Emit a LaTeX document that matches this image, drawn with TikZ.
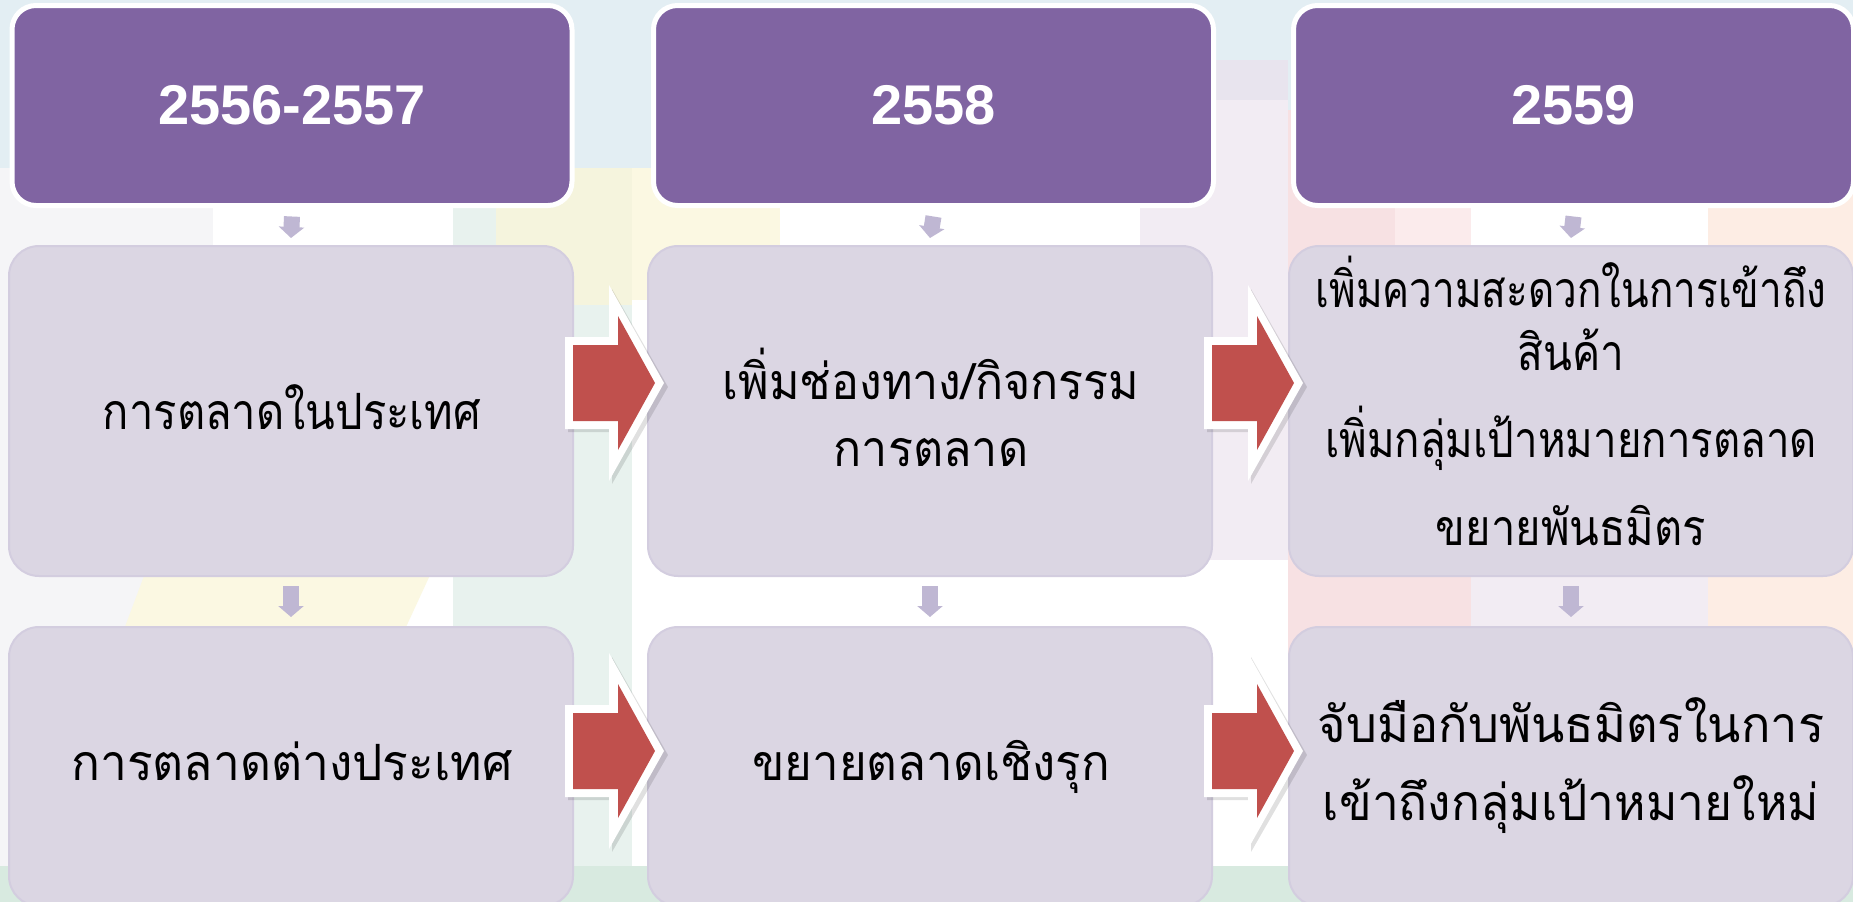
\documentclass[tikz,border=0pt]{standalone}
\usepackage{fontspec}
\usepackage{graphicx}
\setmainfont{Liberation Sans}
\newfontfamily\thaifont[Script=Thai, FakeStretch=0.87]{Loma}
\usetikzlibrary{arrows.meta,calc}
\definecolor{hdrpurple}{HTML}{8064A2}
\definecolor{boxfill}{HTML}{DBD6E3}
\definecolor{boxedge}{HTML}{D3CDDF}
\definecolor{smallarr}{HTML}{BFB7D3}
\definecolor{redarr}{HTML}{C0504D}
\definecolor{bgblue}{HTML}{E3EEF3}
\definecolor{bggray}{HTML}{F5F5F7}
\definecolor{bgmint}{HTML}{E8F2EE}
\definecolor{bgmintb}{HTML}{D8EAE0}
\definecolor{bgyellow}{HTML}{F5F4DD}
\definecolor{bgyellowb}{HTML}{FBF8E2}
\definecolor{bglav}{HTML}{F2ECF3}
\definecolor{bglavb}{HTML}{E8E4EE}
\definecolor{bgpink}{HTML}{F7E1E3}
\definecolor{bgpinkb}{HTML}{FBEBEC}
\definecolor{bgpeach}{HTML}{FDEDE4}
\newcommand{\sx}[2]{\scalebox{#1}[1]{#2}}
\tikzset{
  hdr/.style={draw=white, line width=5pt, fill=hdrpurple, rounded corners=24pt,
    minimum width=560pt, minimum height=200pt, inner sep=0pt, outer sep=0pt,
    text=white, font=\fontsize{56}{60}\selectfont\bfseries},
  rbox/.style={draw=boxedge, line width=2pt, fill=boxfill, rounded corners=30pt,
    minimum width=564pt, inner sep=0pt, outer sep=0pt},
  row1/.style={minimum height=330pt},
  row2/.style={minimum height=279pt},
  thtxt/.style={anchor=base, inner sep=0pt, text=black, font=\thaifont\fontsize{50}{54}\selectfont},
  downarr/.style={draw=smallarr, line width=16pt,
    -{Triangle[width=25pt,length=11pt]}},
  blockarr/.pic={
    \fill[black, opacity=0.12] (3,-42) -- (47,-42) -- (47,-94) -- (103,4) -- (47,101) -- (47,49) -- (3,49) -- cycle;
    \fill[white] (0,-46) -- (44,-46) -- (44,-98) -- (99,0) -- (44,98) -- (44,46) -- (0,46) -- cycle;
    \fill[redarr] (8,-38) -- (53,-38) -- (53,-67) -- (90,0) -- (53,67) -- (53,38) -- (8,38) -- cycle;
  }
}
\begin{document}
\begin{tikzpicture}[x=1pt, y=-1pt]
\useasboundingbox (0,0) rectangle (1853,902);
% background
\fill[white] (0,0) rectangle (1853,902);
\fill[bgblue] (0,0) rectangle (1853,168);
\fill[bglavb] (1140,60) rectangle (1288,168);
\fill[bggray] (0,168) rectangle (213,866);
\fill[bgmint] (453,168) rectangle (632,866);
\fill[bgyellow] (496,168) rectangle (632,305);
\fill[bgyellowb] (632,168) rectangle (780,300);
\fill[bglav] (1140,100) rectangle (1288,560);
\fill[bgpink] (1288,110) rectangle (1471,866);
\fill[bgpinkb] (1395,168) rectangle (1471,250);
\fill[bgpeach] (1708,110) rectangle (1853,866);
\fill[bglav] (1471,560) rectangle (1708,866);
\fill[bgyellowb] (150,560) -- (437,560) -- (400,640) -- (120,640) -- cycle;
\fill[bgmintb] (0,866) rectangle (1853,902);

% headers
\node[hdr] (h1) at (292,105.5) {2556-2557};
\node[hdr] (h2) at (933.5,105.5) {2558};
\node[hdr] (h3) at (1573.5,105.5) {2559};

% row boxes
\node[rbox,row1] (r1a) at (291,411) {};
\node[rbox,row1] (r1b) at (930,411) {};
\node[rbox,row1] (r1c) at (1571,411) {};
\node[rbox,row2] (r2a) at (291,766.5) {};
\node[rbox,row2] (r2b) at (930,766.5) {};
\node[rbox,row2] (r2c) at (1571,766.5) {};

% small down arrows
\draw[downarr] ($(h1.south)+(0,11)$) -- ($(r1a.north)+(0,-8)$);
\draw[downarr] ($(h2.south)+(0,11)$) -- ($(r1b.north)+(0,-8)$);
\draw[downarr] ($(h3.south)+(0,11)$) -- ($(r1c.north)+(0,-8)$);
\draw[downarr] ($(r1a.south)+(0,10)$) -- ($(r2a.north)+(0,-10)$);
\draw[downarr] ($(r1b.south)+(0,10)$) -- ($(r2b.north)+(0,-10)$);
\draw[downarr] ($(r1c.south)+(0,10)$) -- ($(r2c.north)+(0,-10)$);

% red block arrows
\pic at ($(r1a.east)+(-8,-28)$) {blockarr};
\pic at ($(r1b.east)+(-8,-28)$) {blockarr};
\pic at ($(r2a.east)+(-8,-15.5)$) {blockarr};
\pic at ($(r2b.east)+(-8,-15.5)$) {blockarr};

% texts
\node[thtxt] (ta) at (292,429) {การตลาดในประเทศ};
\node[thtxt] (tb1) at (931,399) {\sx{1.07}{เพิ่มช่องทาง/กิจกรรม}};
\node[thtxt] (tb2) at (931,466) {\sx{1.07}{การตลาด}};
\node[thtxt] (tc1) at (1571,307) {\sx{0.93}{เพิ่มความสะดวกในการเข้าถึง}};
\node[thtxt] (tc2) at (1571,370) {\sx{0.97}{สินค้า}};
\node[thtxt] (tc3) at (1571,457) {\sx{0.965}{เพิ่มกลุ่มเป้าหมายการตลาด}};
\node[thtxt] (tc4) at (1571,545) {ขยายพันธมิตร};
\node[thtxt] (td) at (292,780) {\sx{1.1}{การตลาดต่างประเทศ}};
\node[thtxt] (te) at (931,780) {\sx{1.09}{ขยายตลาดเชิงรุก}};
\node[thtxt] (tf1) at (1571,742) {\sx{1.12}{จับมือกับพันธมิตรในการ}};
\node[thtxt] (tf2) at (1571,820) {\sx{1.1}{เข้าถึงกลุ่มเป้าหมายใหม่}};
\end{tikzpicture}
\end{document}
